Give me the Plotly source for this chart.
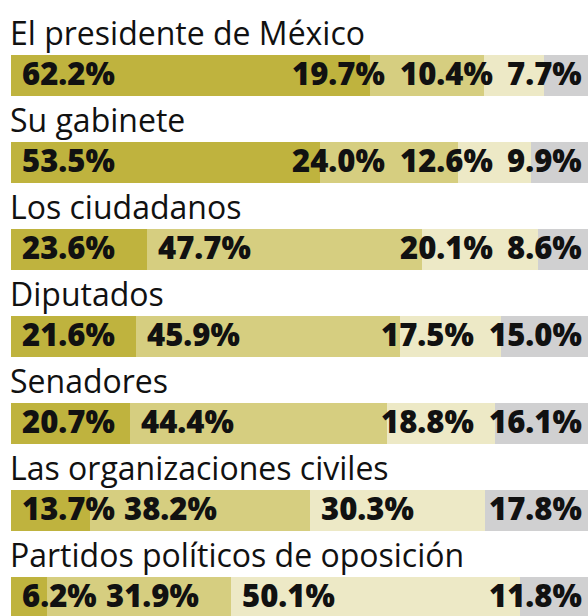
import plotly.graph_objects as go

# ---- data ----
categories = ["El presidente de México", "Su gabinete", "Los ciudadanos", "Diputados",
              "Senadores", "Las organizaciones civiles", "Partidos políticos de oposición"]
s1 = [62.2, 53.5, 23.6, 21.6, 20.7, 13.7, 6.2]
s2 = [19.7, 24.0, 47.7, 45.9, 44.4, 38.2, 31.9]
s3 = [10.4, 12.6, 20.1, 17.5, 18.8, 30.3, 50.1]
s4 = [7.7, 9.9, 8.6, 15.0, 16.1, 17.8, 11.8]
series = [s1, s2, s3, s4]

# ---- style ----
W, H = 588, 616
colors = ["#bfb33e", "#d6ce80", "#ede9c6", "#d0d0d1"]
x_left_px = 11
plot_w = W - x_left_px
pitch = 87.0
first_center = 75.25
bar_h = 41.5
lab_font = dict(family="Open Sans", size=31, color="#111111", weight=800)
title_font = dict(family="Open Sans", size=32, color="#111111")
pad_px = 9
gap_fwd = 10
gap_back = 15
char_em = {"0": 0.6, "1": 0.6, "2": 0.6, "3": 0.6, "4": 0.6, "5": 0.6, "6": 0.6,
           "7": 0.6, "8": 0.6, "9": 0.6, ".": 0.28, "%": 0.9}

def text_w(t):
    return sum(char_em.get(c, 0.6) for c in t) * lab_font["size"]

n = len(categories)
fig = go.Figure()
for k, vals in enumerate(series):
    fig.add_trace(go.Bar(
        y=list(range(n)), x=vals, orientation="h", width=bar_h / pitch,
        marker=dict(color=colors[k], line=dict(width=0)),
        hoverinfo="skip", showlegend=False))

ann = []
px_per = plot_w / 100.0
for i in range(n):
    vals = [s[i] for s in series]
    texts = [f"{v:.1f}%" for v in vals]
    widths = [text_w(t) for t in texts]
    starts, c = [], 0.0
    for v in vals:
        starts.append(c * px_per)
        c += v
    left = []
    for k in range(4):
        p = starts[k] + pad_px
        if k > 0:
            p = max(p, left[k - 1] + widths[k - 1] + gap_fwd)
        left.append(p)
    left[3] = min(left[3], plot_w - pad_px - widths[3])
    for k in (2, 1):
        left[k] = min(left[k], left[k + 1] - gap_back - widths[k])
    for k in range(4):
        ann.append(dict(x=left[k] / px_per, y=i, xref="x", yref="y", text=texts[k],
                        showarrow=False, xanchor="left", yanchor="middle", yshift=2,
                        font=lab_font))
    ann.append(dict(x=0, y=i - 0.49, xref="x", yref="y", text=categories[i],
                    showarrow=False, xanchor="left", yanchor="middle",
                    xshift=-3, font=title_font))

fig.update_layout(
    width=W, height=H, margin=dict(l=0, r=0, t=0, b=0),
    paper_bgcolor="white", plot_bgcolor="white", barmode="stack",
    xaxis=dict(domain=[x_left_px / W, 1], range=[0, 100], visible=False, fixedrange=True),
    yaxis=dict(range=[(H - first_center) / pitch, -first_center / pitch],
               visible=False, fixedrange=True),
    annotations=ann,
)
fig.write_html("out.html", config={"displayModeBar": False},
               post_script="document.body.style.margin='0';document.body.style.overflow='hidden';")
